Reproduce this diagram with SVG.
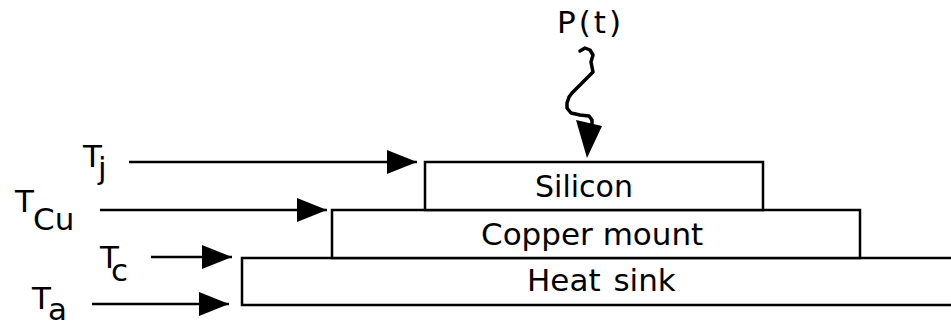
<svg xmlns="http://www.w3.org/2000/svg" width="951" height="323" viewBox="0 0 951 323">
<defs>
<style>
text{font-family:"DejaVu Sans","Liberation Sans",sans-serif;font-size:31px;fill:#000}
.layer{fill:#fff;stroke:#000;stroke-width:2.5}
.conn{stroke:#000;stroke-width:2.5;fill:none}
.wave{stroke:#000;stroke-width:3.5;fill:none;stroke-linejoin:round;stroke-linecap:round}
</style>
<marker id="ah" markerUnits="userSpaceOnUse" markerWidth="30" markerHeight="24" refX="30" refY="12" orient="auto">
<path d="M0,0 L30,12 L0,24 Z" fill="#000"/>
</marker>
</defs>
<rect width="951" height="323" fill="#fff"/>
<g id="heatsink">
<rect class="layer" x="242" y="258" width="720" height="47"/>
<text x="527" y="291" word-spacing="3">Heat sink</text>
</g>
<g id="copper">
<rect class="layer" x="332" y="210" width="528" height="48"/>
<text x="481" y="245">Copper mount</text>
</g>
<g id="silicon">
<rect class="layer" x="425" y="162" width="338" height="48"/>
<text x="535" y="197" style="font-size:30px">Silicon</text>
</g>
<g id="Tj"><text x="83" y="167">T</text><text x="98" y="179">j</text></g>
<g id="TCu"><text x="15" y="212">T</text><text x="33" y="230">Cu</text></g>
<g id="Tc"><text x="100" y="268">T</text><text x="111" y="281">c</text></g>
<g id="Ta"><text x="32" y="309">T</text><text x="48" y="320">a</text></g>
<g id="Pt"><text x="557" y="33" letter-spacing="3">P(t)</text></g>
<g id="connectors">
<line class="conn" x1="129" y1="162" x2="417" y2="162" marker-end="url(#ah)"/>
<line class="conn" x1="100" y1="210" x2="327" y2="210" marker-end="url(#ah)"/>
<line class="conn" x1="151" y1="257" x2="232" y2="257" marker-end="url(#ah)"/>
<line class="conn" x1="92" y1="304" x2="229" y2="304" marker-end="url(#ah)"/>
<path class="wave" d="M580,51 L585,48 L590,50 L593,55 L591,62 L592,67 L593,72 L588,77 L583,82 L578,87 L572,93 L569,97 L567,103 L567,108 L571,113 L580,115 L589,116 L592,120 L592,127"/>
<polygon points="576,120 602,126 587,158" fill="#000"/>
</g>
</svg>
